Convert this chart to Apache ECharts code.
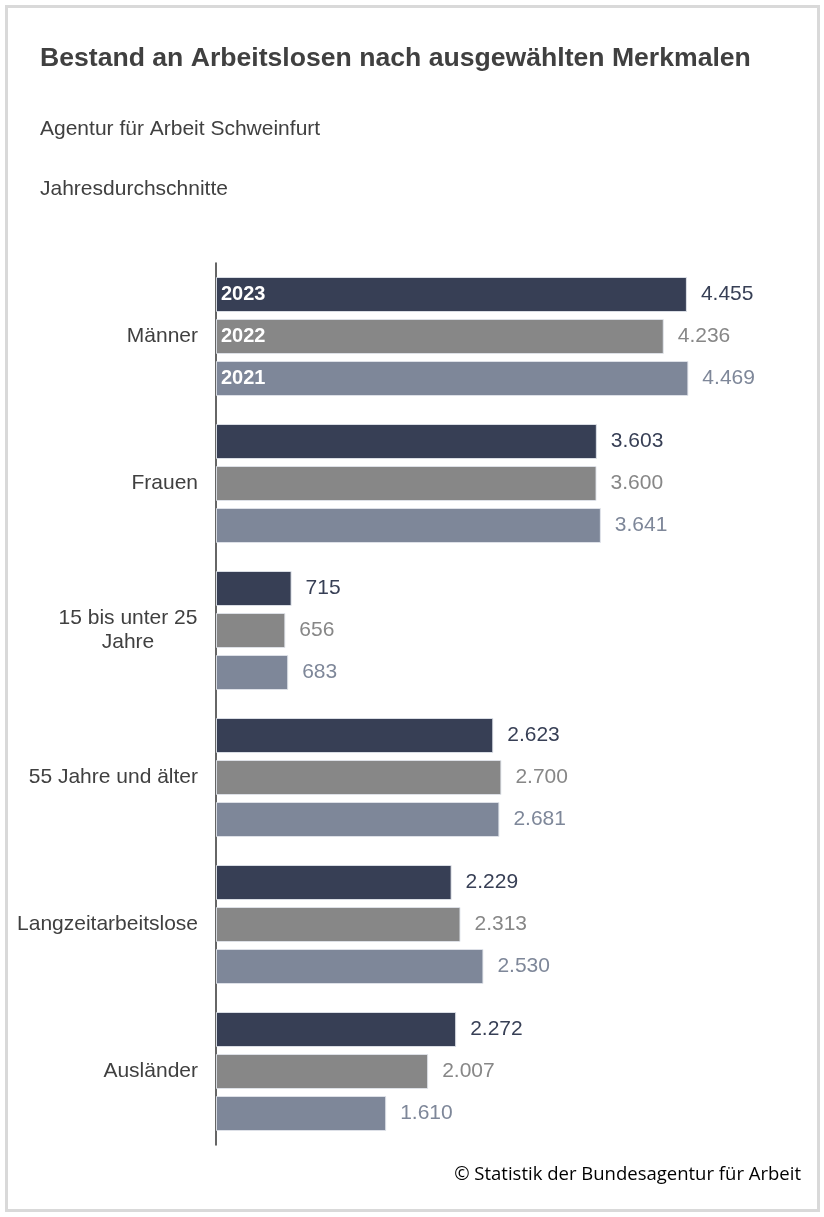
<html>
<head>
<meta charset="utf-8">
<title>Bestand an Arbeitslosen</title>
<script src="https://cdn.jsdelivr.net/npm/echarts@6/dist/echarts.min.js"></script>
<style>
  body { margin: 0; background: #fff; }
  #main { width: 824px; height: 1217px; }
</style>
</head>
<body>
<div id="main"></div>
<script type="text/javascript">
    // Daten
    var categories = ['Männer', 'Frauen', '15 bis unter 25 Jahre', '55 Jahre und älter', 'Langzeitarbeitslose', 'Ausländer'];
    var years = ['2023', '2022', '2021'];
    var values2023 = [4455, 3603, 715, 2623, 2229, 2272];
    var values2022 = [4236, 3600, 656, 2700, 2313, 2007];
    var values2021 = [4469, 3641, 683, 2681, 2530, 1610];
    var colors = ['#373f55', '#878787', '#7e8799'];

    var FONT = 'Liberation Sans, Arial, sans-serif';
    var myChart = echarts.init(document.getElementById('main'));

    function fmt(v) {
        return String(v).replace(/\B(?=(\d{3})+(?!\d))/g, '.');
    }

    // sichtbare Balken mit Wert rechts
    function makeSeries(name, data, color, idx) {
        return {
            name: name,
            type: 'bar',
            yAxisIndex: 0,
            data: data,
            barWidth: 35,
            barGap: '20%',
            itemStyle: { color: color, borderColor: 'rgba(225,228,235,0.9)', borderWidth: 1 },
            label: {
                show: true, position: 'right', distance: 14,
                formatter: function (p) { return fmt(p.value); },
                color: idx === 0 ? '#373f55' : color, fontSize: 21,
                fontFamily: FONT
            },
            silent: true
        };
    }

    // unsichtbare Balken nur fuer die Jahreszahl im ersten Block
    function makeYearSeries(name, data) {
        return {
            name: name + ' ',
            type: 'bar',
            yAxisIndex: 1,
            data: data.map(function (v, i) {
                return { value: v, label: { show: i === 0 } };
            }),
            barWidth: 35,
            barGap: '20%',
            itemStyle: { color: 'rgba(0,0,0,0)' },
            label: {
                position: 'insideLeft', distance: 5,
                formatter: name, color: '#fff', fontWeight: 'bold', fontSize: 20,
                fontFamily: FONT
            },
            silent: true,
            z: 3
        };
    }

    var option = {
        animation: false,
        textStyle: { fontFamily: FONT },
        title: [
            { text: 'Bestand an Arbeitslosen nach ausgewählten Merkmalen', left: 35, top: 40,
              textStyle: { fontSize: 26.6, fontWeight: 'bold', color: '#404040', fontFamily: FONT } },
            { text: 'Agentur für Arbeit Schweinfurt', left: 35, top: 114,
              textStyle: { fontSize: 21, fontWeight: 'normal', color: '#404040', fontFamily: FONT } },
            { text: 'Jahresdurchschnitte', left: 35, top: 174,
              textStyle: { fontSize: 21, fontWeight: 'normal', color: '#404040', fontFamily: FONT } },
            { text: '© Statistik der Bundesagentur für Arbeit', right: 18, top: 1160,
              textStyle: { fontSize: 18.5, fontWeight: 'normal', color: '#000', fontFamily: 'Open Sans' } }
        ],
        graphic: [{
            type: 'rect', shape: { x: 6.5, y: 6.5, width: 812, height: 1204 },
            style: { fill: 'none', stroke: '#d9d9d9', lineWidth: 3 }, silent: true
        }],
        grid: { left: 216, top: 263, width: 528.5, height: 882, containLabel: false },
        xAxis: {
            type: 'value', min: 0, max: 5000, show: false
        },
        yAxis: [{
            type: 'category', data: categories, inverse: true,
            axisLine: { show: true, lineStyle: { color: '#333333', width: 1.5 } },
            axisTick: { show: false },
            axisLabel: {
                margin: 18, fontSize: 21, color: '#404040', fontFamily: FONT,
                formatter: function (v) {
                    if (v === '15 bis unter 25 Jahre') return '{c|15 bis unter 25}\n{c|Jahre}';
                    return v;
                },
                rich: { c: { width: 140, align: 'center', fontSize: 21, color: '#404040', lineHeight: 24, fontFamily: FONT } }
            }
        }, {
            type: 'category', data: categories, inverse: true, show: false
        }],
        series: [
            makeSeries(years[0], values2023, colors[0], 0),
            makeSeries(years[1], values2022, colors[1], 1),
            makeSeries(years[2], values2021, colors[2], 2),
            makeYearSeries(years[0], values2023),
            makeYearSeries(years[1], values2022),
            makeYearSeries(years[2], values2021)
        ]
    };

    myChart.setOption(option);
</script>
</body>
</html>
